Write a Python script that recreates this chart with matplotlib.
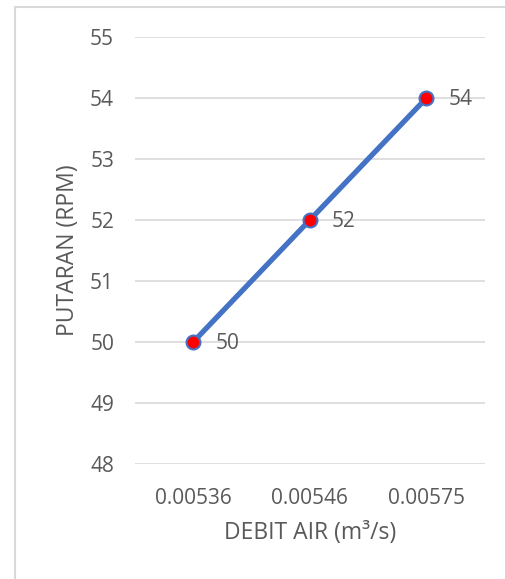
import matplotlib.pyplot as plt
from matplotlib.patches import Rectangle

plt.rcParams["font.family"] = ["Open Sans", "DejaVu Sans"]

debit_labels = ["0.00536", "0.00546", "0.00575"]
putaran = [50, 52, 54]
y_ticks = [48, 49, 50, 51, 52, 53, 54, 55]

TEXT = "#595959"
GRID = "#d9d9d9"
LINE = "#4472C4"

fig = plt.figure(figsize=(5.05, 5.79), dpi=100)
ax = fig.add_axes([0.267, 0.1986, 0.693, 0.7375])

# chart-area border (open to the right and bottom)
fig.patches.append(Rectangle((15 / 505, -0.1), 1.2, 0.1 + 1 - 7 / 579,
                             transform=fig.transFigure, fill=False,
                             edgecolor="#d9d9d9", linewidth=1.5))

x = list(range(len(debit_labels)))
ax.plot(x, putaran, color=LINE, linewidth=3.8, zorder=3,
        marker="o", markersize=10, markerfacecolor="red",
        markeredgecolor=LINE, markeredgewidth=1.5)

for xi, yi in zip(x, putaran):
    ax.annotate(f"{yi}", (xi, yi), xytext=(16, -1), textcoords="offset points",
                ha="left", va="center", fontsize=15, color=TEXT)

ax.set_xlim(-0.5, len(debit_labels) - 0.5)
ax.set_ylim(48, 55)
ax.set_xticks(x)
ax.set_xticklabels(debit_labels)
ax.set_yticks(y_ticks)
ax.grid(axis="y", color=GRID, linewidth=1.2)
ax.set_axisbelow(True)
for sp in ax.spines.values():
    sp.set_visible(False)
ax.tick_params(length=0, labelsize=15, colors=TEXT)
ax.tick_params(axis="y", pad=15)
ax.tick_params(axis="x", pad=17)

ax.set_xlabel("DEBIT AIR (m³/s)", fontsize=16.5, color=TEXT, labelpad=9)
ax.set_ylabel("PUTARAN (RPM)", fontsize=16.5, color=TEXT, labelpad=7)

fig.savefig("out.png", dpi=100)
